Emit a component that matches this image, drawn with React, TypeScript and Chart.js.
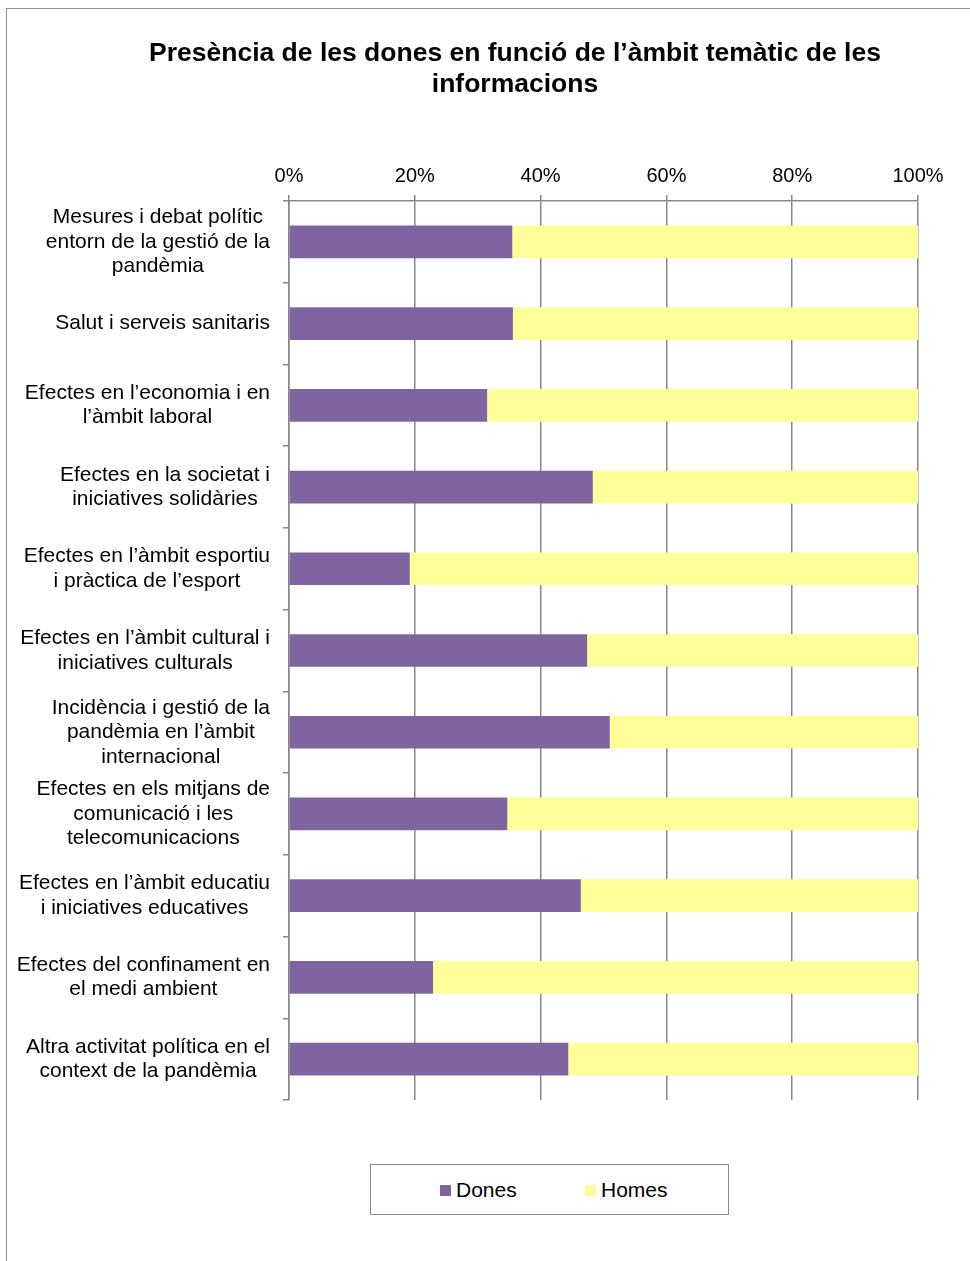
import React, { useEffect, useRef } from "react";
import { Chart, registerables } from "chart.js";

Chart.register(...registerables);

const categories: string[][] = [
  ["Mesures i debat polític", "entorn de la gestió de la", "pandèmia"],
  ["Salut i serveis sanitaris"],
  ["Efectes en l’economia i en", "l’àmbit laboral"],
  ["Efectes en la societat i", "iniciatives solidàries"],
  ["Efectes en l’àmbit esportiu", "i pràctica de l’esport"],
  ["Efectes en l’àmbit cultural i", "iniciatives culturals"],
  ["Incidència i gestió de la", "pandèmia en l’àmbit", "internacional"],
  ["Efectes en els mitjans de", "comunicació i les", "telecomunicacions"],
  ["Efectes en l’àmbit educatiu", "i iniciatives educatives"],
  ["Efectes del confinament en", "el medi ambient"],
  ["Altra activitat política en el", "context de la pandèmia"],
];

const dones = [35.5, 35.6, 31.5, 48.3, 19.2, 47.4, 51.0, 34.7, 46.4, 22.9, 44.4];
const homes = [64.5, 64.4, 68.5, 51.7, 80.8, 52.6, 49.0, 65.3, 53.6, 77.1, 55.6];

const seriesNames = ["Dones", "Homes"];
const seriesColors = ["#8064A2", "#FFFF99"];
const titleLines = [
  "Presència de les dones en funció de l’àmbit temàtic de les",
  "informacions",
];

const FONT = "'Liberation Sans', Arial, sans-serif";
const GRID = "#878787";

const yLabelPlugin = {
  id: "yLabels",
  afterDraw(chart: any) {
    const { ctx, chartArea, scales } = chart;
    const y = scales.y;
    ctx.save();
    ctx.font = `21px ${FONT}`;
    ctx.fillStyle = "#000";
    ctx.textAlign = "center";
    ctx.textBaseline = "middle";
    const lh = 24.5;
    categories.forEach((lines, i) => {
      const cy = y.getPixelForValue(i);
      const w = Math.max(...lines.map((l) => ctx.measureText(l).width));
      const cx = chartArea.left - 19 - w / 2;
      lines.forEach((line, j) => {
        ctx.fillText(line, cx, cy + (j - (lines.length - 1) / 2) * lh);
      });
    });
    ctx.restore();
  },
};

export default function App() {
  const canvasRef = useRef<HTMLCanvasElement | null>(null);

  useEffect(() => {
    if (!canvasRef.current) return;
    const chart = new Chart(canvasRef.current, {
      type: "bar",
      data: {
        labels: categories.map((l) => l.join(" ")),
        datasets: [
          {
            label: seriesNames[0],
            data: dones,
            backgroundColor: seriesColors[0],
            borderWidth: 0,
            barPercentage: 0.4,
            categoryPercentage: 1.0,
          },
          {
            label: seriesNames[1],
            data: homes,
            backgroundColor: seriesColors[1],
            borderWidth: 0,
            barPercentage: 0.4,
            categoryPercentage: 1.0,
          },
        ],
      },
      options: {
        indexAxis: "y",
        responsive: false,
        animation: false,
        layout: { padding: { left: 269, top: 164, right: 52, bottom: 161 } },
        plugins: {
          legend: { display: false },
          title: { display: false },
          tooltip: { enabled: false },
        },
        scales: {
          x: {
            position: "top",
            stacked: true,
            min: 0,
            max: 100,
            grid: { color: GRID, lineWidth: 1.5, tickLength: 6 },
            border: { color: GRID, width: 1.5 },
            ticks: {
              stepSize: 20,
              padding: 7,
              color: "#000",
              font: { family: FONT, size: 20 },
              callback: (v: any) => `${v}%`,
            },
            afterFit: (s: any) => {
              s.height = 37;
            },
          },
          y: {
            stacked: true,
            grid: {
              drawOnChartArea: false,
              color: GRID,
              lineWidth: 1.5,
              tickLength: 6,
              offset: true,
            },
            border: { color: GRID, width: 1.5 },
            ticks: { display: false },
            afterFit: (s: any) => {
              s.width = 20;
            },
          },
        },
      },
      plugins: [yLabelPlugin],
    } as any);
    return () => chart.destroy();
  }, []);

  return (
    <div
      style={{
        position: "absolute",
        left: 0,
        top: 0,
        width: 970,
        height: 1261,
        overflow: "hidden",
        background: "#fff",
        fontFamily: FONT,
      }}
    >
      <div
        style={{
          position: "absolute",
          left: 6,
          top: 8,
          width: 1000,
          height: 1300,
          borderLeft: "1.5px solid #8f8f8f",
          borderTop: "1.5px solid #8f8f8f",
        }}
      />
      <canvas
        ref={canvasRef}
        width={970}
        height={1261}
        style={{ position: "absolute", left: 0, top: 0, width: 970, height: 1261 }}
      />
      <div
        style={{
          position: "absolute",
          left: 65,
          top: 37,
          width: 900,
          textAlign: "center",
          fontWeight: "bold",
          fontSize: 26.5,
          lineHeight: "31px",
          color: "#000",
        }}
      >
        {titleLines.map((t, i) => (
          <div key={i} style={{ whiteSpace: "nowrap" }}>
            {t}
          </div>
        ))}
      </div>
      <div
        style={{
          position: "absolute",
          left: 370,
          top: 1164,
          width: 359,
          height: 51,
          boxSizing: "border-box",
          border: "1.5px solid #8c8c8c",
          background: "#fff",
        }}
      >
        {seriesNames.map((name, i) => (
          <div
            key={name}
            style={{
              position: "absolute",
              left: i === 0 ? 69 : 214,
              top: 13,
              height: 24,
              display: "flex",
              alignItems: "center",
              fontSize: 21,
              color: "#000",
              whiteSpace: "nowrap",
            }}
          >
            <span
              style={{
                display: "inline-block",
                width: 11,
                height: 11,
                background: seriesColors[i],
                marginRight: 5,
              }}
            />
            {name}
          </div>
        ))}
      </div>
    </div>
  );
}
